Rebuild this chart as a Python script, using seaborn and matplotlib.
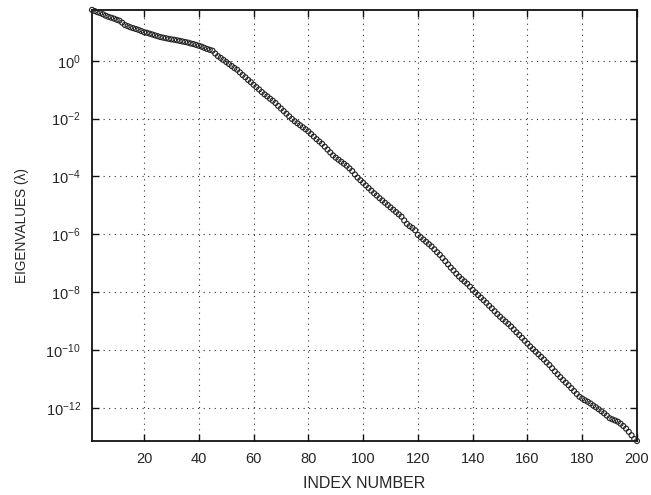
import numpy as np
import pandas as pd
import seaborn as sns
import matplotlib
matplotlib.use("Agg")
import matplotlib.pyplot as plt
from matplotlib.ticker import FixedLocator, LogFormatterSciNotation, NullLocator

# Eigenvalue spectrum, stored as log10(lambda) for index 1..200
log10_eigenvalues = [
    1.76, 1.72, 1.68, 1.65, 1.61, 1.56, 1.52, 1.49, 1.46, 1.42,
    1.39, 1.32, 1.24, 1.20, 1.16, 1.13, 1.10, 1.07, 1.03, 0.99,
    0.97, 0.94, 0.91, 0.88, 0.85, 0.82, 0.80, 0.78, 0.76, 0.74,
    0.73, 0.71, 0.69, 0.67, 0.65, 0.63, 0.60, 0.58, 0.55, 0.52,
    0.49, 0.45, 0.41, 0.38, 0.35, 0.25, 0.16, 0.10, 0.03, -0.04,
    -0.11, -0.18, -0.25, -0.31, -0.40, -0.49, -0.57, -0.66, -0.74, -0.83,
    -0.91, -0.99, -1.08, -1.16, -1.23, -1.31, -1.38, -1.46, -1.56, -1.65,
    -1.74, -1.83, -1.92, -2.01, -2.09, -2.16, -2.23, -2.30, -2.37, -2.44,
    -2.53, -2.62, -2.71, -2.79, -2.87, -2.97, -3.07, -3.17, -3.27, -3.35,
    -3.42, -3.49, -3.56, -3.63, -3.72, -3.81, -3.93, -4.04, -4.13, -4.22,
    -4.31, -4.40, -4.49, -4.58, -4.66, -4.75, -4.83, -4.91, -4.99, -5.07,
    -5.15, -5.23, -5.31, -5.39, -5.52, -5.64, -5.72, -5.78, -5.86, -6.02,
    -6.10, -6.18, -6.26, -6.34, -6.42, -6.52, -6.62, -6.71, -6.82, -6.93,
    -7.04, -7.15, -7.25, -7.36, -7.46, -7.55, -7.63, -7.71, -7.81, -7.92,
    -8.01, -8.10, -8.19, -8.28, -8.37, -8.47, -8.56, -8.66, -8.76, -8.85,
    -8.94, -9.02, -9.10, -9.19, -9.29, -9.39, -9.48, -9.58, -9.68, -9.78,
    -9.88, -9.97, -10.06, -10.15, -10.24, -10.33, -10.43, -10.52, -10.63, -10.74,
    -10.84, -10.94, -11.04, -11.13, -11.22, -11.32, -11.42, -11.52, -11.62, -11.68,
    -11.74, -11.79, -11.85, -11.92, -11.98, -12.05, -12.12, -12.19, -12.27, -12.36,
    -12.40, -12.44, -12.48, -12.55, -12.63, -12.72, -12.83, -12.95, -13.08, -13.15,
]
index_number = list(range(1, len(log10_eigenvalues) + 1))
x_ticks = [20, 40, 60, 80, 100, 120, 140, 160, 180, 200]
y_ticks = [1e-12, 1e-10, 1e-8, 1e-6, 1e-4, 1e-2, 1e0]

df = pd.DataFrame({
    "index": index_number,
    "eigenvalue": 10.0 ** np.array(log10_eigenvalues),
})

sns.set_style("ticks")
plt.rcParams["font.family"] = ["Liberation Sans", "DejaVu Sans"]
plt.rcParams["mathtext.default"] = "regular"

fig = plt.figure(figsize=(6.51, 4.95), dpi=100)
ax = fig.add_axes([0.1413, 0.109, 0.8372, 0.871])

sns.scatterplot(data=df, x="index", y="eigenvalue", ax=ax,
                marker="o", s=13, facecolor="none", edgecolor="#222222",
                linewidth=0.8, legend=False, zorder=3, clip_on=False)

ax.set_yscale("log")
ax.set_xlim(df["index"].min(), df["index"].max())
ax.set_ylim(df["eigenvalue"].min(), df["eigenvalue"].max())

ax.xaxis.set_major_locator(FixedLocator(x_ticks))
ax.yaxis.set_major_locator(FixedLocator(y_ticks))
ax.yaxis.set_major_formatter(LogFormatterSciNotation())
ax.yaxis.set_minor_locator(NullLocator())
ax.xaxis.set_minor_locator(NullLocator())

ax.grid(True, which="major", linestyle=(0, (1, 4)), color="#333333", linewidth=0.8)
ax.tick_params(axis="both", which="major", direction="in", length=5, width=1.0,
               top=True, right=True, labelsize=10.5, color="#111111", pad=8)
for sp in ax.spines.values():
    sp.set_linewidth(1.3)
    sp.set_color("#111111")
    sp.set_visible(True)

ax.set_xlabel("INDEX NUMBER", fontsize=11.5, labelpad=7)
ax.set_ylabel("EIGENVALUES (λ)", fontsize=9.8, labelpad=12)

fig.savefig("out.png", dpi=100)
